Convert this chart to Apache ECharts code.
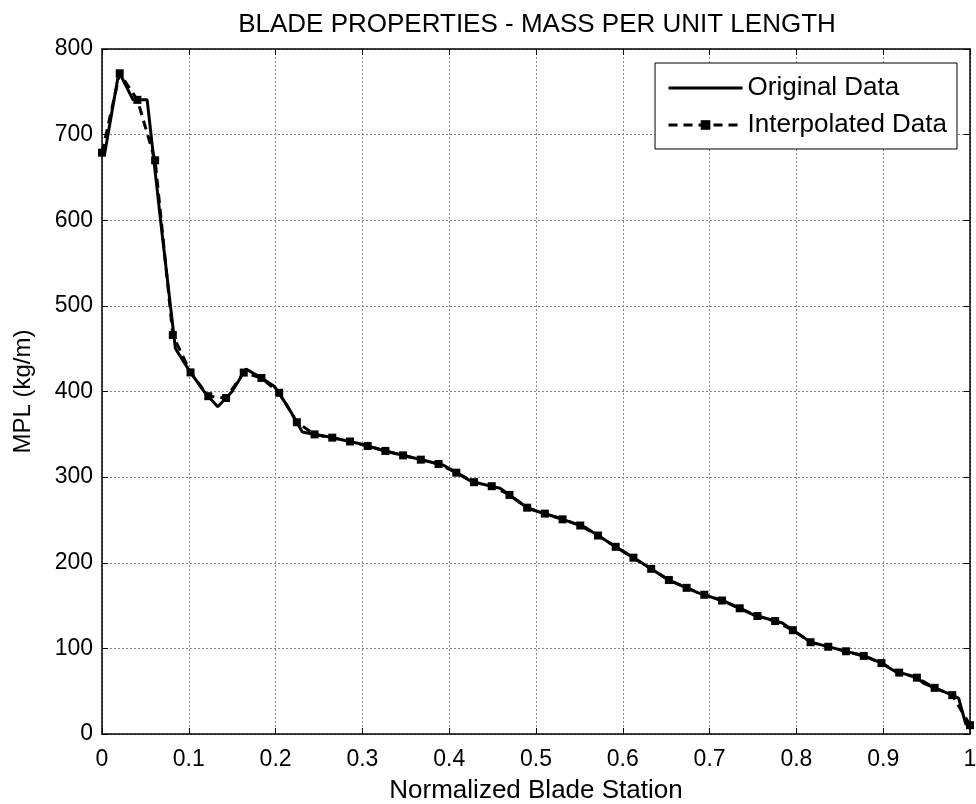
<!DOCTYPE html>
<html>
<head>
<meta charset="utf-8">
<script src="https://cdn.jsdelivr.net/npm/echarts@6/dist/echarts.min.js"></script>
<style>
html,body{margin:0;padding:0;background:#fff;}
#chart{width:976px;height:804px;}
</style>
</head>
<body>
<div id="chart"></div>
<script>
const titleText = 'BLADE PROPERTIES - MASS PER UNIT LENGTH';
const xName = 'Normalized Blade Station';
const yName = 'MPL (kg/m)';
const seriesNames = ['Original Data', 'Interpolated Data'];

const origX = [0.00000,0.00325,0.01951,0.03577,0.05203,0.06829,0.08455,0.10081,0.11707,0.13335,
  0.14959,0.16585,0.18211,0.19837,0.21465,0.23089,0.24715,0.26341,0.29595,0.32846,
  0.36098,0.39350,0.42602,0.45855,0.49106,0.52358,0.55610,0.58862,0.62115,0.65366,
  0.68618,0.71870,0.75122,0.78376,0.81626,0.84878,0.88130,0.89756,0.91382,0.93008,
  0.93821,0.94636,0.95447,0.96260,0.97073,0.97886,0.98699,0.99512,1.00000];
const origY = [678.9,678.9,773.4,740.6,740.6,592.5,450.3,424.1,400.6,382.1,
  399.7,426.3,416.8,406.2,381.4,352.8,349.5,346.5,339.3,330.0,
  322.0,313.8,294.7,287.1,263.3,253.2,241.7,220.6,200.3,179.4,
  165.1,154.4,138.9,129.6,107.3,98.8,90.2,83.0,72.9,68.8,
  66.3,59.3,55.9,52.5,49.1,45.8,41.7,11.5,10.3];

const interpX = [0.0000,0.0204,0.0408,0.0612,0.0816,0.1020,0.1224,0.1429,0.1633,0.1837,
  0.2041,0.2245,0.2449,0.2653,0.2857,0.3061,0.3265,0.3469,0.3673,0.3878,
  0.4082,0.4286,0.4490,0.4694,0.4898,0.5102,0.5306,0.5510,0.5714,0.5918,
  0.6122,0.6327,0.6531,0.6735,0.6939,0.7143,0.7347,0.7551,0.7755,0.7959,
  0.8163,0.8367,0.8571,0.8776,0.8980,0.9184,0.9388,0.9592,0.9796,1.0000];
const interpY = [678.9,771.6,740.6,670.0,466.0,422.3,394.5,392.4,422.1,415.8,
  398.5,364.1,349.9,346.1,341.6,336.4,330.6,325.4,320.4,315.3,
  305.2,294.1,289.4,279.2,264.3,257.4,250.7,243.5,231.8,218.6,
  205.9,192.9,179.8,170.7,162.6,155.9,146.8,137.8,131.9,121.2,
  107.2,101.9,96.6,91.2,82.8,71.7,65.8,53.9,45.4,10.3];

const xMin = 0, xMax = 1, xStep = 0.1;
const yMin = 0, yMax = 800, yStep = 100;

const zip = (a, b) => a.map((v, i) => [v, b[i]]);
const font = 'Liberation Sans, Arial, sans-serif';

const chart = echarts.init(document.getElementById('chart'));
const hiddenLabel = { show: false };
chart.setOption({
  backgroundColor: '#ffffff',
  animation: false,
  title: {
    text: titleText,
    left: 532, textAlign: 'center', top: 7,
    textStyle: { fontFamily: font, fontSize: 26, fontWeight: 'normal', color: '#000' }
  },
  grid: { left: 102, right: 6, top: 49, bottom: 70, containLabel: false, outerBoundsMode: 'none' },
  legend: {
    right: 19, top: 63, orient: 'vertical',
    backgroundColor: '#fff', borderColor: '#000', borderWidth: 1,
    padding: [12, 10, 11, 12], itemGap: 11,
    itemWidth: 74, itemHeight: 12,
    textStyle: { fontFamily: font, fontSize: 26, color: '#000' },
    data: [
      { name: seriesNames[0], itemStyle: { opacity: 0 }, lineStyle: { width: 3 } },
      { name: seriesNames[1], lineStyle: { width: 3 } }
    ]
  },
  xAxis: [{
    type: 'value', min: xMin, max: xMax, interval: xStep,
    name: xName, nameLocation: 'middle', nameGap: 44,
    nameTextStyle: { fontFamily: font, fontSize: 26, color: '#000' },
    axisLine: { show: true, onZero: false, lineStyle: { color: '#000', width: 1.5 } },
    axisTick: { show: true, inside: true, length: 6, lineStyle: { color: '#000' } },
    axisLabel: { fontFamily: font, fontSize: 23, color: '#000', margin: 14,
      formatter: v => String(Math.round(v * 10) / 10) },
    splitLine: { show: true, lineStyle: { color: '#808080', type: [2, 2], width: 1 } }
  }, {
    type: 'value', min: xMin, max: xMax, interval: xStep, position: 'top',
    axisLine: { show: true, onZero: false, lineStyle: { color: '#000', width: 1.5 } },
    axisTick: { show: true, inside: true, length: 6, lineStyle: { color: '#000' } },
    axisLabel: hiddenLabel, splitLine: { show: false }
  }],
  yAxis: [{
    type: 'value', min: yMin, max: yMax, interval: yStep,
    name: yName, nameLocation: 'middle', nameGap: 67, nameRotate: 90,
    nameTextStyle: { fontFamily: font, fontSize: 24, color: '#000' },
    axisLine: { show: true, onZero: false, lineStyle: { color: '#000', width: 1.5 } },
    axisTick: { show: true, inside: true, length: 6, lineStyle: { color: '#000' } },
    axisLabel: { fontFamily: font, fontSize: 23, color: '#000', margin: 9 },
    splitLine: { show: true, lineStyle: { color: '#808080', type: [2, 2], width: 1 } }
  }, {
    type: 'value', min: yMin, max: yMax, interval: yStep, position: 'right',
    axisLine: { show: true, onZero: false, lineStyle: { color: '#000', width: 1.5 } },
    axisTick: { show: true, inside: true, length: 6, lineStyle: { color: '#000' } },
    axisLabel: hiddenLabel, splitLine: { show: false }
  }],
  series: [{
    name: seriesNames[0], type: 'line', data: zip(origX, origY),
    symbol: 'none', color: '#000',
    lineStyle: { color: '#000', width: 3, type: 'solid' }
  }, {
    name: seriesNames[1], type: 'line', data: zip(interpX, interpY),
    symbol: 'rect', symbolSize: 8, showSymbol: true, color: '#000',
    itemStyle: { color: '#000' },
    lineStyle: { color: '#000', width: 3, type: [9, 6] }
  }]
});
</script>
</body>
</html>
